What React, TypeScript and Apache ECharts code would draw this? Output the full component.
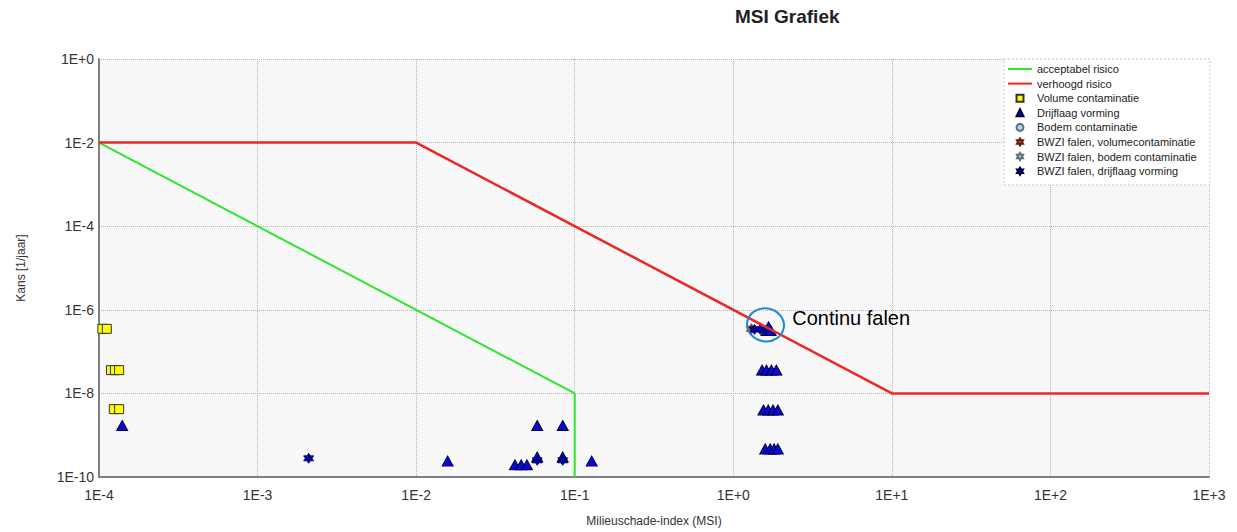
import React, { useEffect, useRef } from 'react';
import * as echarts from 'echarts';

// Risk limit lines
const acceptabelX = [1e-4, 1e-1, 1e-1];
const acceptabelY = [1e-2, 1e-8, 1e-10];
const verhoogdX = [1e-4, 1e-2, 1e1, 1e3];
const verhoogdY = [1e-2, 1e-2, 1e-8, 1e-8];

// Volume contaminatie (yellow squares)
const volumeX = [1.05e-4, 1.12e-4, 1.19e-4, 1.26e-4, 1.34e-4, 1.24e-4, 1.34e-4];
const volumeY = [3.5e-7, 3.5e-7, 3.6e-8, 3.6e-8, 3.6e-8, 4.2e-9, 4.2e-9];

// Drijflaag vorming (blue triangles)
const drijflaagX = [
  1.4e-4, 1.58e-2, 4.2e-2, 4.6e-2, 5.0e-2, 5.8e-2, 8.4e-2, 5.8e-2, 8.4e-2, 0.128,
  1.62, 1.72, 1.67,
  1.52, 1.62, 1.74, 1.87,
  1.55, 1.66, 1.78, 1.91,
  1.59, 1.71, 1.81, 1.91,
];
const drijflaagY = [
  1.7e-9, 2.4e-10, 1.95e-10, 1.95e-10, 1.95e-10, 1.7e-9, 1.7e-9, 3.0e-10, 3.0e-10, 2.4e-10,
  3.2e-7, 3.2e-7, 3.9e-7,
  3.6e-8, 3.6e-8, 3.6e-8, 3.6e-8,
  4.0e-9, 4.0e-9, 4.0e-9, 4.0e-9,
  4.7e-10, 4.7e-10, 4.7e-10, 4.7e-10,
];

// Bodem contaminatie (no points)
const bodemX: number[] = [];
const bodemY: number[] = [];

// BWZI falen, volumecontaminatie
const bwziVolumeX = [1.3];
const bwziVolumeY = [3.5e-7];

// BWZI falen, bodem contaminatie (no points)
const bwziBodemX: number[] = [];
const bwziBodemY: number[] = [];

// BWZI falen, drijflaag vorming
const bwziDrijflaagX = [2.1e-3, 5.8e-2, 8.4e-2, 1.36, 1.48];
const bwziDrijflaagY = [2.8e-10, 2.5e-10, 2.5e-10, 3.4e-7, 3.4e-7];

// Annotation
const annotationPoint = [1.59, 4.3e-7];
const annotationText = 'Continu falen';

const titleText = 'MSI Grafiek';
const xName = 'Milieuschade-index (MSI)';
const yName = 'Kans [1/jaar]';

const FONT = '"Liberation Sans", Arial, sans-serif';
const STAR =
  'path://M0,-10 L2.89,-5 L8.66,-5 L5.77,0 L8.66,5 L2.89,5 L0,10 L-2.89,5 L-8.66,5 L-5.77,0 L-8.66,-5 L-2.89,-5 Z';
const LINE_ICON = 'path://M0,0 L24,0 L24,2 L0,2 Z';
const SQUARE_ICON = 'path://M0,0 L10,0 L10,10 L0,10 Z';
const TRI_ICON = 'path://M5,0 L10,10 L0,10 Z';
const CIRCLE_ICON = 'circle';

const zip = (xs: number[], ys: number[]) => xs.map((x, i) => [x, ys[i]]);

const expLabel = (v: number) => {
  const e = Math.round(Math.log10(v));
  return '1E' + (e >= 0 ? '+' : '-') + Math.abs(e);
};

export default function App() {
  const ref = useRef<HTMLDivElement>(null);
  useEffect(() => {
    if (!ref.current) return;
    const chart = echarts.init(ref.current, null, { renderer: 'svg' });
    const legendBox = {
      type: 'rect',
      id: 'legendBox',
      z: 10,
      shape: { x: 1004, y: 59, width: 206, height: 126 },
      style: { fill: '#ffffff', stroke: '#c8c8c8', lineWidth: 1, lineDash: [2, 2] },
    };
    const option: any = {
      animation: false,
      backgroundColor: '#ffffff',
      title: {
        text: titleText,
        left: 735,
        top: 7,
        padding: 0,
        textStyle: { fontFamily: FONT, fontSize: 19, fontWeight: 'bold', color: '#222' },
      },
      grid: {
        left: 99,
        right: 28,
        top: 59,
        bottom: 55,
        show: true,
        backgroundColor: '#f8f8f8',
        borderWidth: 0,
      },
      legend: {
        orient: 'vertical',
        left: 1008,
        top: 63,
        padding: 0,
        itemWidth: 24,
        itemHeight: 7,
        itemGap: 2.6,
        z: 20,
        textStyle: { fontFamily: FONT, fontSize: 11, lineHeight: 12, color: '#222' },
        data: [
          { name: 'acceptabel risico', icon: LINE_ICON },
          { name: 'verhoogd risico', icon: LINE_ICON },
          { name: 'Volume contaminatie', icon: SQUARE_ICON },
          { name: 'Drijflaag vorming', icon: TRI_ICON },
          { name: 'Bodem contaminatie', icon: CIRCLE_ICON },
          { name: 'BWZI falen, volumecontaminatie', icon: STAR },
          { name: 'BWZI falen, bodem contaminatie', icon: STAR },
          { name: 'BWZI falen, drijflaag vorming', icon: STAR },
        ],
      },
      xAxis: {
        type: 'log',
        logBase: 10,
        min: 1e-4,
        max: 1e3,
        interval: 1,
        name: xName,
        nameLocation: 'middle',
        nameGap: 38,
        nameTextStyle: { fontFamily: FONT, fontSize: 12, color: '#333' },
        axisLine: { show: true, onZero: false, lineStyle: { color: '#808080', width: 2 } },
        axisTick: { show: false },
        axisLabel: { formatter: expLabel, fontFamily: FONT, fontSize: 14, color: '#333', margin: 11 },
        splitLine: { show: true, lineStyle: { color: '#b4b4b4', type: 'dotted', width: 1 } },
      },
      yAxis: {
        type: 'log',
        logBase: 10,
        min: 1e-10,
        max: 1,
        interval: 2,
        name: yName,
        nameLocation: 'middle',
        nameGap: 72,
        nameTextStyle: { fontFamily: FONT, fontSize: 12, color: '#333' },
        axisLine: { show: true, onZero: false, lineStyle: { color: '#808080', width: 2 } },
        axisTick: { show: false },
        axisLabel: { formatter: expLabel, fontFamily: FONT, fontSize: 14, color: '#333', margin: 5 },
        splitLine: { show: true, lineStyle: { color: '#b4b4b4', type: 'dotted', width: 1 } },
      },
      graphic: { elements: [legendBox] },
      series: [
        {
          name: 'acceptabel risico',
          type: 'line',
          symbol: 'none',
          z: 5,
          lineStyle: { color: '#2ee62e', width: 2 },
          itemStyle: { color: '#2ee62e' },
          data: zip(acceptabelX, acceptabelY),
        },
        {
          name: 'verhoogd risico',
          type: 'line',
          symbol: 'none',
          z: 5,
          lineStyle: { color: '#ee2626', width: 2.5 },
          itemStyle: { color: '#ee2626' },
          data: zip(verhoogdX, verhoogdY),
        },
        {
          name: 'Volume contaminatie',
          type: 'scatter',
          symbol: 'rect',
          symbolSize: [9, 9],
          z: 3,
          itemStyle: { color: '#ffff00', borderColor: '#333333', borderWidth: 1, opacity: 1 },
          data: zip(volumeX, volumeY),
        },
        {
          name: 'Drijflaag vorming',
          type: 'scatter',
          symbol: 'triangle',
          symbolSize: [11, 10],
          z: 3,
          itemStyle: { color: '#0a0ad8', borderColor: '#000040', borderWidth: 1, opacity: 1 },
          data: zip(drijflaagX, drijflaagY),
        },
        {
          name: 'Bodem contaminatie',
          type: 'scatter',
          symbol: 'circle',
          symbolSize: 9,
          z: 3,
          itemStyle: { color: '#a8d8e0', borderColor: '#607080', borderWidth: 1, opacity: 1 },
          data: zip(bodemX, bodemY),
        },
        {
          name: 'BWZI falen, volumecontaminatie',
          type: 'scatter',
          symbol: STAR,
          symbolSize: 10,
          z: 2,
          itemStyle: { color: '#c0401c', borderColor: '#602010', borderWidth: 0.8, opacity: 1 },
          data: zip(bwziVolumeX, bwziVolumeY),
        },
        {
          name: 'BWZI falen, bodem contaminatie',
          type: 'scatter',
          symbol: STAR,
          symbolSize: 10,
          z: 3,
          itemStyle: { color: '#b0d4d8', borderColor: '#607078', borderWidth: 0.8, opacity: 1 },
          data: zip(bwziBodemX, bwziBodemY),
        },
        {
          name: 'BWZI falen, drijflaag vorming',
          type: 'scatter',
          symbol: STAR,
          symbolSize: 10,
          z: 3,
          itemStyle: { color: '#0000a8', borderColor: '#000040', borderWidth: 0.8, opacity: 1 },
          data: zip(bwziDrijflaagX, bwziDrijflaagY),
        },
      ],
    };
    chart.setOption(option);
    const p = chart.convertToPixel({ xAxisIndex: 0, yAxisIndex: 0 }, annotationPoint) as number[];
    chart.setOption({
      graphic: {
        elements: [
          legendBox,
          {
            type: 'ellipse',
            id: 'annEllipse',
            z: 30,
            shape: { cx: p[0], cy: p[1], rx: 18.5, ry: 16.5 },
            rotation: -0.15,
            originX: p[0],
            originY: p[1],
            style: { fill: 'none', stroke: '#1a8ad4', lineWidth: 2 },
          },
          {
            type: 'text',
            id: 'annText',
            z: 30,
            x: p[0] + 27,
            y: p[1] - 7,
            style: {
              text: annotationText,
              font: '20px "Liberation Sans", Arial, sans-serif',
              fill: '#000000',
              textAlign: 'left',
              textVerticalAlign: 'middle',
            },
          },
        ],
      },
    });
    return () => chart.dispose();
  }, []);
  return (
    <div
      ref={ref}
      style={{ position: 'absolute', left: 0, top: 0, width: 1237, height: 532 }}
    />
  );
}
